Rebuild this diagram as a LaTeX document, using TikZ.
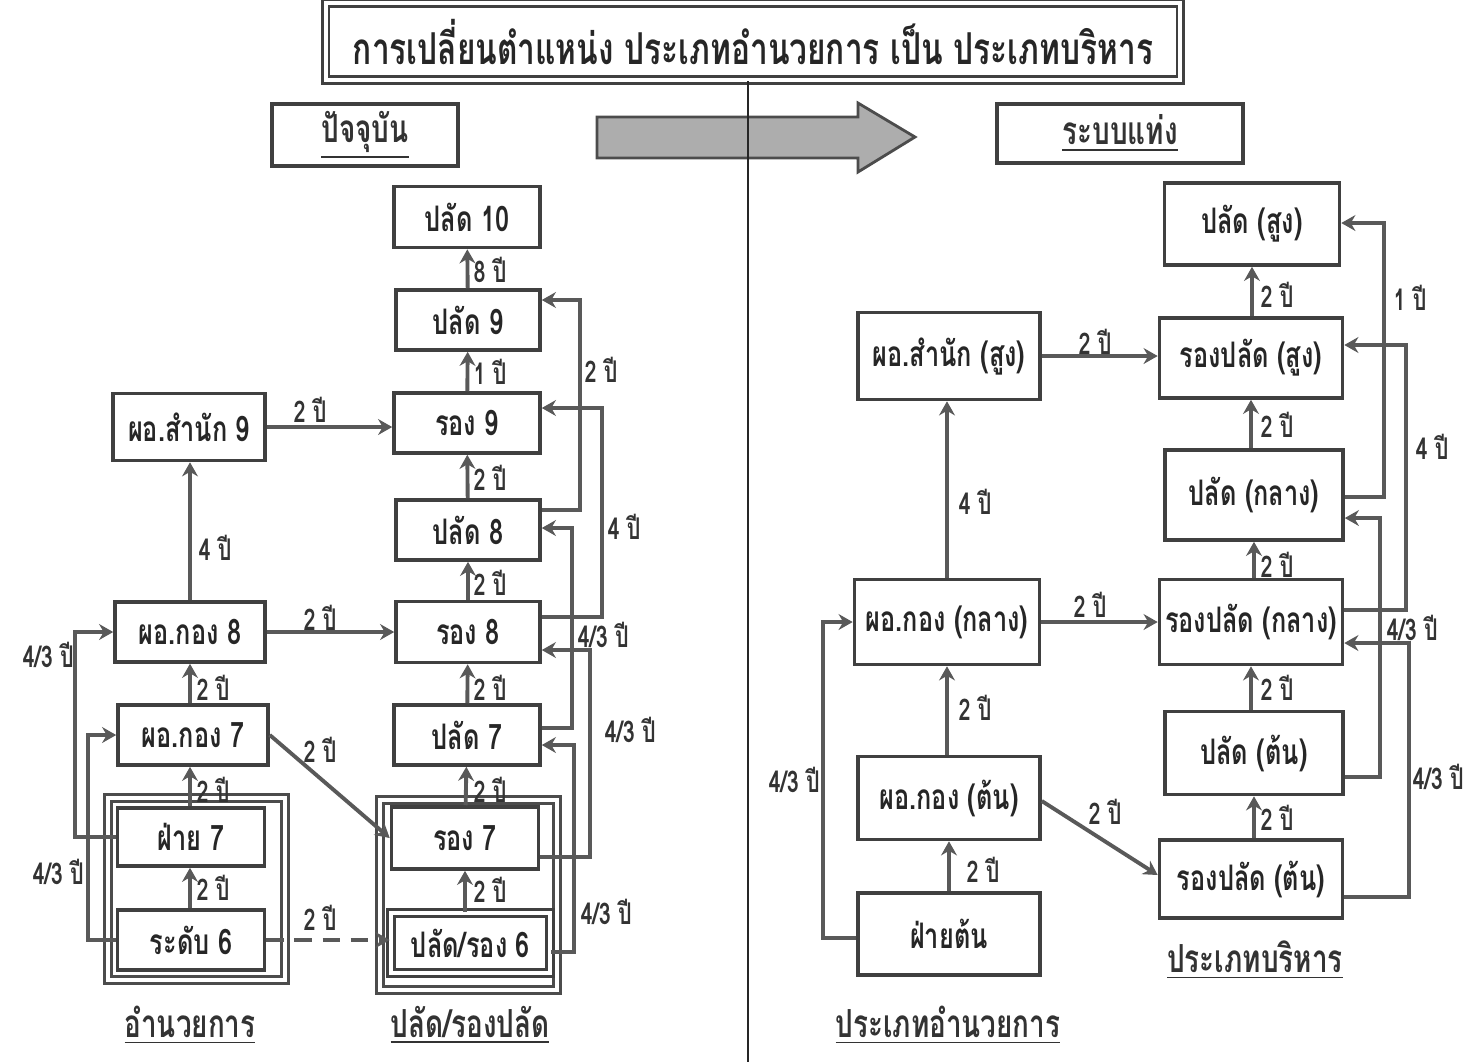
\documentclass[tikz,border=0pt]{standalone}
\usepackage{fontspec}
\newfontfamily\thaifont[Script=Thai,FakeStretch=0.72]{Loma}
\usepackage{tikz}
\usetikzlibrary{positioning}
\usetikzlibrary{arrows.meta}

\tikzset{
    box/.style={draw=black!75, line width=1pt, fill=white, inner sep=0pt, text=black!85, font=\thaifont\bfseries\fontsize{10}{12}\selectfont},
    boxx/.style={box, double, double distance=1.2pt, line width=0.7pt},
    grp/.style={draw=black!70, double, double distance=1.2pt, line width=0.7pt},
    conn/.style={draw=black!65, line width=1.1pt, -{Stealth[length=4pt,width=4.5pt]}},
    yr/.style={inner sep=0pt, text=black!80, font=\thaifont\bfseries\fontsize{8.5}{10}\selectfont},
    yrw/.style={yr, anchor=west},
    head/.style={inner sep=0pt, text=black!80, font=\thaifont\bfseries\fontsize{11}{13}\selectfont},
}

\begin{document}
\begin{tikzpicture}[x=0.01cm, y=-0.01cm]
    \useasboundingbox (0,0) rectangle (1465,1062);

    % title, headers and big arrow
    \node[boxx, minimum width=8.54cm, minimum height=0.77cm, font=\thaifont\bfseries\fontsize{12.5}{14}\selectfont] (title) at (753,41.5) {การเปลี่ยนตำแหน่ง ประเภทอำนวยการ เป็น ประเภทบริหาร};
    \node[box, minimum width=1.86cm, minimum height=0.62cm, head] (now) at (365,135) {\underline{ปัจจุบัน}};
    \node[box, minimum width=2.46cm, minimum height=0.59cm, head] (bar) at (1120,133.5) {\underline{ระบบแท่ง}};
    \path[draw=black!70, line width=0.8pt, fill=black!32] (597,117) -- (858,117) -- (858,103) -- (915,137) -- (858,172) -- (858,158) -- (597,158) -- cycle;
    \coordinate (bot) at (748,1062);
    \draw[black!85, line width=0.8pt] (title.south -| bot) -- (bot);

    % left half: groups
    \draw[grp] (108,798) rectangle (285,980);
    \draw[grp] (380,800) rectangle (557,990);

    % left half: boxes
    \node[box, minimum width=1.46cm, minimum height=0.61cm] (p10) at (467,217) {ปลัด 10};
    \node[box, minimum width=1.44cm, minimum height=0.60cm] (p9) at (468,320) {ปลัด 9};
    \node[box, minimum width=1.46cm, minimum height=0.60cm] (r9) at (467,423) {รอง 9};
    \node[box, minimum width=1.52cm, minimum height=0.67cm] (sn9) at (189,427) {ผอ.สำนัก 9};
    \node[box, minimum width=1.44cm, minimum height=0.60cm] (p8) at (468,530) {ปลัด 8};
    \node[box, minimum width=1.44cm, minimum height=0.61cm] (r8) at (468,632) {รอง 8};
    \node[box, minimum width=1.50cm, minimum height=0.60cm] (k8) at (190,632) {ผอ.กอง 8};
    \node[box, minimum width=1.50cm, minimum height=0.60cm] (k7) at (193,735) {ผอ.กอง 7};
    \node[box, minimum width=1.46cm, minimum height=0.60cm] (p7) at (467,735) {ปลัด 7};
    \node[box, minimum width=1.47cm, minimum height=0.62cm] (r7) at (465,838) {รอง 7};
    \node[box, minimum width=1.47cm, minimum height=0.58cm] (f7) at (191,837) {ฝ่าย 7};
    \node[box, minimum width=1.47cm, minimum height=0.60cm] (d6) at (191,940) {ระดับ 6};
    \node[boxx, minimum width=1.59cm, minimum height=0.60cm] (pr6) at (470.5,943) {ปลัด/รอง 6};

    % left half: steps
    \draw[conn] (p9) -- (p10);
    \draw[conn] (r9) -- (p9);
    \draw[conn] (sn9.east) -- (sn9.east -| r9.west);
    \draw[conn] (p8) -- (r9);
    \draw[conn] (r8) -- (p8);
    \draw[conn] (k8) -- (r8);
    \draw[conn] (k8.north) -- (k8.north |- sn9.south);
    \draw[conn] (k8.south |- k7.north) -- (k8.south);
    \draw[conn] (p7) -- (r8);
    \draw[conn] (r7) -- (p7);
    \draw[conn] (k8.south |- f7.north) -- (k8.south |- k7.south);
    \draw[conn] (k8.south |- d6.north) -- (k8.south |- f7.south);
    \draw[conn] (r7.south |- pr6.north) -- (r7.south);
    \draw[conn] (k7.east) -- (r7.west);
    \draw[conn, dash pattern=on 5pt off 3pt] (d6.east) -- (d6.east -| pr6.west);
    % left half: side loops
    \draw[conn] ([yshift=2mm]p8.east) -- ++(38,0) |- ([yshift=2mm]p9.east);
    \draw[conn] ([yshift=1.5mm]r8.east) -- ++(60,0) |- ([yshift=1.5mm]r9.east);
    \draw[conn] ([yshift=0.7mm]p7.east) -- ++(30,0) |- ([yshift=0.2mm]p8.east);
    \draw[conn] ([yshift=-1.9mm]r7.east) -- ++(50,0) |- ([yshift=-1.8mm]r8.east);
    \draw[conn] ([yshift=-0.9mm]pr6.east) -- ++(23,0) |- ([yshift=-1mm]p7.east);
    \draw[conn] (f7.west) -- ++(-41,0) |- (k8.west);
    \draw[conn] (d6.west) -- ++(-28,0) |- (k7.west);

    % left half: years
    \node[yrw] (y1) at (473,270) {8 ปี};
    \node[yrw] (y2) at (473,372) {1 ปี};
    \node[yr] (y3) at (310,410) {2 ปี};
    \node[yrw] (y4) at (473,478) {2 ปี};
    \node[yrw] (y5) at (473,583) {2 ปี};
    \node[yr] (y6) at (320,618) {2 ปี};
    \node[yrw] (y7) at (198,548) {4 ปี};
    \node[yrw] (y8) at (196,688) {2 ปี};
    \node[yrw] (y9) at (473,688) {2 ปี};
    \node[yrw] (y10) at (473,790) {2 ปี};
    \node[yrw] (y11) at (196,790) {2 ปี};
    \node[yrw] (y12) at (196,888) {2 ปี};
    \node[yrw] (y13) at (473,890) {2 ปี};
    \node[yr] (y14) at (320,750) {2 ปี};
    \node[yr] (y15) at (320,918) {2 ปี};
    \node[yrw] (y16) at (584,370) {2 ปี};
    \node[yrw] (y17) at (607,527) {4 ปี};
    \node[yrw] (y18) at (604,730) {4/3 ปี};
    \node[yrw] (y19) at (577,635) {4/3 ปี};
    \node[yrw] (y20) at (580,912) {4/3 ปี};
    \node[yrw] (y21) at (22,655) {4/3 ปี};
    \node[yrw] (y22) at (32,872) {4/3 ปี};
    \node[head] (lblA) at (190,1025) {\underline{อำนวยการ}};
    \node[head] (lblB) at (470,1025) {\underline{ปลัด/รองปลัด}};

    % right half: boxes
    \node[box, minimum width=1.75cm, minimum height=0.82cm] (ps) at (1252,224) {ปลัด (สูง)};
    \node[box, minimum width=1.83cm, minimum height=0.80cm] (rs) at (1251,358) {รองปลัด (สูง)};
    \node[box, minimum width=1.82cm, minimum height=0.87cm] (ss) at (949,356) {ผอ.สำนัก (สูง)};
    \node[box, minimum width=1.78cm, minimum height=0.90cm] (pm) at (1254,495) {ปลัด (กลาง)};
    \node[box, minimum width=1.83cm, minimum height=0.85cm] (rm) at (1251,622) {รองปลัด (กลาง)};
    \node[box, minimum width=1.85cm, minimum height=0.85cm] (km) at (947,622) {ผอ.กอง (กลาง)};
    \node[box, minimum width=1.82cm, minimum height=0.83cm] (kt) at (949,798) {ผอ.กอง (ต้น)};
    \node[box, minimum width=1.82cm, minimum height=0.82cm] (ft) at (949,934) {ฝ่ายต้น};
    \node[box, minimum width=1.78cm, minimum height=0.83cm] (pt) at (1254,753) {ปลัด (ต้น)};
    \node[box, minimum width=1.83cm, minimum height=0.78cm] (rt) at (1251,879) {รองปลัด (ต้น)};

    % right half: steps
    \draw[conn] (ss.east) -- (ss.east -| rs.west);
    \draw[conn] (rs.north -| ps.south) -- (ps.south);
    \draw[conn] (pm.north -| rs.south) -- (rs.south);
    \draw[conn] (rm.north -| pm.south) -- (pm.south);
    \draw[conn] (pt.north -| rm.south) -- (rm.south);
    \draw[conn] (rt.north -| pt.south) -- (pt.south);
    \draw[conn] (km.north) -- (km.north |- ss.south);
    \draw[conn] (km) -- (rm);
    \draw[conn] (kt.north -| km.south) -- (km.south);
    \draw[conn] (ft.north -| kt.south) -- (kt.south);
    \draw[conn] ([yshift=-0.3mm]kt.east) -- ([yshift=0.4mm]rt.west);
    % right half: side loops
    \draw[conn] ([yshift=-0.4mm]ft.west) -- ++(-33,0) |- (km.west);
    \draw[conn] ([yshift=-0.2mm]pm.east) -- ++(39,0) |- ([yshift=0.1mm]ps.east);
    \draw[conn] ([yshift=1.2mm]rm.east) -- ++(62,0) |- ([yshift=1.3mm]rs.east);
    \draw[conn] ([yshift=-2.4mm]pt.east) -- ++(35,0) |- ([yshift=-2.3mm]pm.east);
    \draw[conn] ([yshift=-1.8mm]rt.east) -- ++(65,0) |- ([yshift=-2.1mm]rm.east);

    % right half: years
    \node[yr] (z1) at (1095,342) {2 ปี};
    \node[yrw] (z2) at (1260,295) {2 ปี};
    \node[yrw] (z3) at (1260,425) {2 ปี};
    \node[yrw] (z4) at (1260,565) {2 ปี};
    \node[yrw] (z5) at (1260,688) {2 ปี};
    \node[yrw] (z6) at (1260,818) {2 ปี};
    \node[yrw] (z7) at (958,502) {4 ปี};
    \node[yr] (z8) at (1090,605) {2 ปี};
    \node[yrw] (z9) at (958,708) {2 ปี};
    \node[yrw] (z10) at (966,870) {2 ปี};
    \node[yr] (z11) at (1105,812) {2 ปี};
    \node[yrw] (z12) at (768,780) {4/3 ปี};
    \node[yrw] (z13) at (1393,298) {1 ปี};
    \node[yrw] (z14) at (1415,447) {4 ปี};
    \node[yrw] (z15) at (1386,628) {4/3 ปี};
    \node[yrw] (z16) at (1412,777) {4/3 ปี};
    \node[head] (lblC) at (948,1025) {\underline{ประเภทอำนวยการ}};
    \node[head] (lblD) at (1255,960) {\underline{ประเภทบริหาร}};
\end{tikzpicture}
\end{document}
